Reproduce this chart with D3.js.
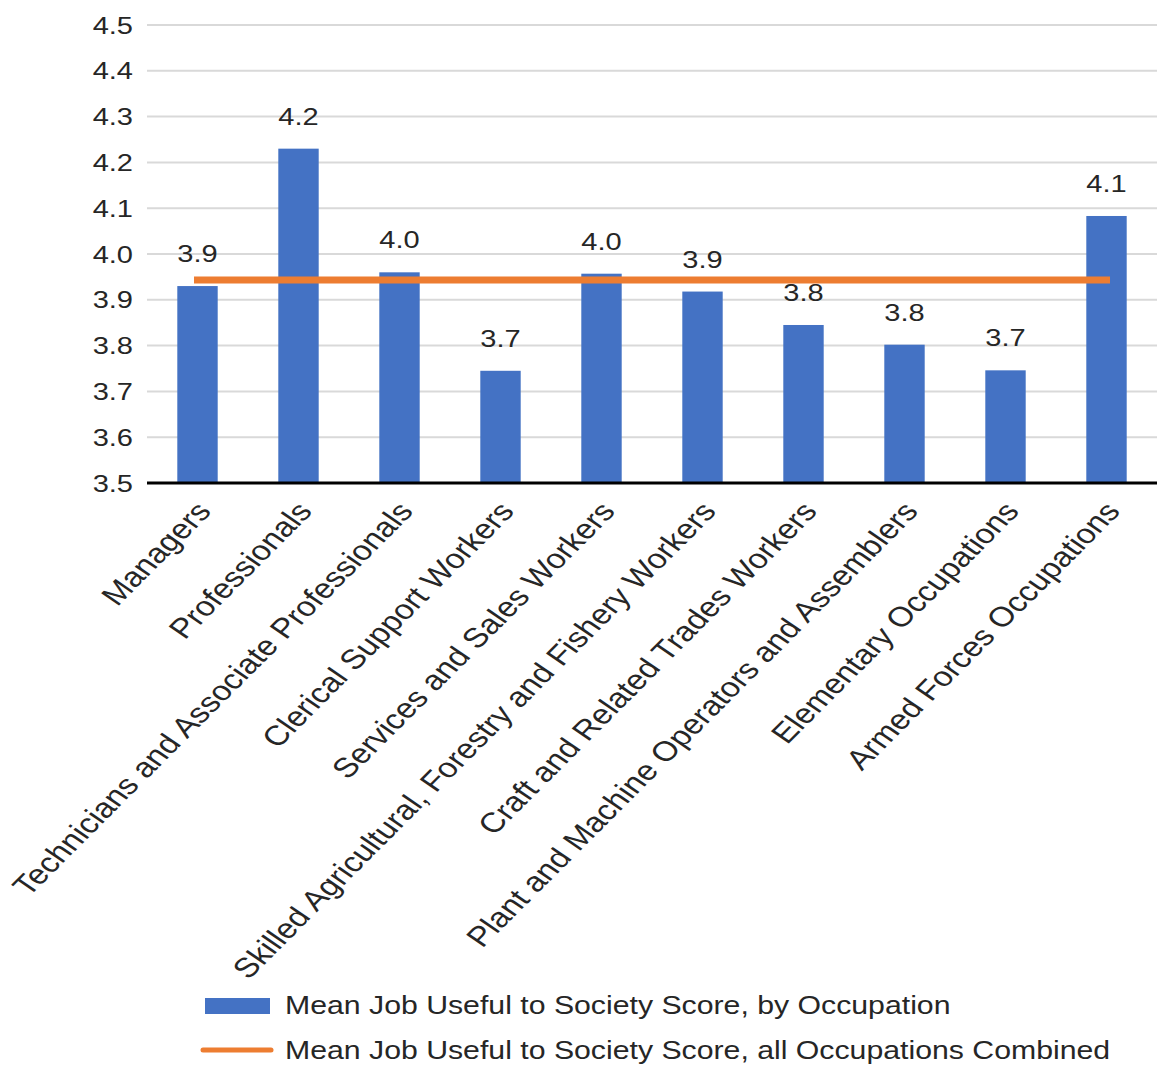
<!DOCTYPE html>
<html>
<head>
<meta charset="utf-8">
<script src="https://cdn.jsdelivr.net/npm/d3@7"></script>
<style>
  html, body { margin: 0; padding: 0; background: #fff; }
  svg { display: block; font-family: "Liberation Sans", Arial, Helvetica, sans-serif; }
</style>
</head>
<body>
<svg id="chart" width="1164" height="1068"></svg>
<script>
const categories = [
  "Managers",
  "Professionals",
  "Technicians and Associate Professionals",
  "Clerical Support Workers",
  "Services and Sales Workers",
  "Skilled Agricultural, Forestry and Fishery Workers",
  "Craft and Related Trades Workers",
  "Plant and Machine Operators and Assemblers",
  "Elementary Occupations",
  "Armed Forces Occupations"
];
const occupationScores = [3.93, 4.23, 3.96, 3.745, 3.957, 3.918, 3.845, 3.802, 3.746, 4.083];
const combinedMean = 3.943;
const yTicks = [3.5, 3.6, 3.7, 3.8, 3.9, 4.0, 4.1, 4.2, 4.3, 4.4, 4.5];
const legendLabels = [
  "Mean Job Useful to Society Score, by Occupation",
  "Mean Job Useful to Society Score, all Occupations Combined"
];

const svg = d3.select("#chart");
const plot = { left: 147, right: 1157, top: 25, bottom: 483 };
const SX = 1.21; // horizontal stretch of the text in the reference

const x = d3.scaleBand().domain(categories).range([plot.left, plot.right]).paddingInner(0.6).paddingOuter(0.3);
const y = d3.scaleLinear().domain([3.5, 4.5]).range([plot.bottom, plot.top]);

const blue = "#4472C4", orange = "#ED7D31", textColor = "#262626";

// gridlines
svg.append("g").selectAll("line").data(yTicks.filter(t => t > 3.5)).join("line")
  .attr("x1", plot.left).attr("x2", plot.right)
  .attr("y1", d => y(d)).attr("y2", d => y(d))
  .attr("stroke", "#d9d9d9").attr("stroke-width", 2);

// y axis labels
const yAxis = d3.axisLeft(y).tickValues(yTicks).tickFormat(d3.format(".1f")).tickSize(0).tickPadding(0);
const ya = svg.append("g").attr("transform", `translate(${plot.left},0)`).call(yAxis);
ya.select(".domain").remove();
ya.selectAll(".tick text")
  .attr("font-size", 24).attr("fill", textColor).attr("font-family", "Liberation Sans, Arial, sans-serif")
  .attr("x", 0).attr("dy", "0.34em")
  .attr("transform", `translate(-14,0) scale(${SX},1)`);

// bars
svg.append("g").selectAll("rect").data(categories).join("rect")
  .attr("x", d => x(d)).attr("width", x.bandwidth())
  .attr("y", (d, i) => y(occupationScores[i]))
  .attr("height", (d, i) => y(3.5) - y(occupationScores[i]))
  .attr("fill", blue);

// value labels
svg.append("g").selectAll("text").data(categories).join("text")
  .attr("transform", (d, i) => `translate(${x(d) + x.bandwidth() / 2},${y(occupationScores[i]) - 24}) scale(${SX},1)`)
  .attr("text-anchor", "middle")
  .attr("font-size", 24).attr("fill", textColor)
  .text((d, i) => d3.format(".1f")(occupationScores[i]));

// x axis
const xAxis = d3.axisBottom(x).tickSize(0).tickPadding(0);
const xa = svg.append("g").attr("transform", `translate(0,${plot.bottom})`).call(xAxis);
xa.select(".domain").attr("stroke", "#000").attr("stroke-width", 3)
  .attr("d", `M${plot.left},0H${plot.right}`);
xa.selectAll(".tick text")
  .attr("font-size", 27.8).attr("fill", textColor).attr("font-family", "Liberation Sans, Arial, sans-serif")
  .attr("text-anchor", "end")
  .attr("x", 0).attr("y", 0).attr("dy", 0)
  .attr("transform", `translate(15,29) scale(${SX},1) rotate(-50.4)`);

// combined mean line
const line = d3.line().x(d => x(d) + x.bandwidth() / 2).y(() => y(combinedMean));
svg.append("path").datum(categories).attr("d", line)
  .attr("fill", "none").attr("stroke", orange).attr("stroke-width", 7).attr("stroke-linecap", "square");

// legend
const lg = svg.append("g");
lg.append("rect").attr("x", 205).attr("y", 998).attr("width", 65).attr("height", 16).attr("fill", blue);
lg.append("line").attr("x1", 203).attr("x2", 271).attr("y1", 1050).attr("y2", 1050)
  .attr("stroke", orange).attr("stroke-width", 5).attr("stroke-linecap", "round");
lg.selectAll("text").data(legendLabels).join("text")
  .attr("transform", (d, i) => `translate(285,${1014 + i * 45}) scale(${SX},1)`)
  .attr("font-size", 25).attr("fill", textColor)
  .text(d => d);
</script>
</body>
</html>
